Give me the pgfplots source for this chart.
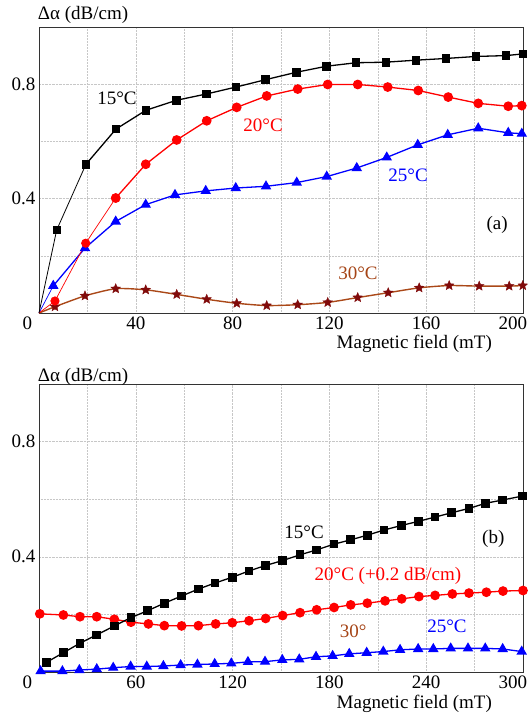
\documentclass[border=0pt]{standalone}
\usepackage{fontspec}
\setmainfont{Liberation Serif}
\usepackage{pgfplots}
\pgfplotsset{compat=1.18}
\definecolor{brline}{RGB}{170,72,24}
\definecolor{brstar}{RGB}{128,10,10}
\definecolor{brtext}{RGB}{165,68,22}
\pgfdeclareplotmark{fstar}{%
  \pgfpathmoveto{\pgfqpointpolar{90}{\pgfplotmarksize}}%
  \pgfpathlineto{\pgfqpointpolar{126}{0.45\pgfplotmarksize}}%
  \pgfpathlineto{\pgfqpointpolar{162}{\pgfplotmarksize}}%
  \pgfpathlineto{\pgfqpointpolar{198}{0.45\pgfplotmarksize}}%
  \pgfpathlineto{\pgfqpointpolar{234}{\pgfplotmarksize}}%
  \pgfpathlineto{\pgfqpointpolar{270}{0.45\pgfplotmarksize}}%
  \pgfpathlineto{\pgfqpointpolar{306}{\pgfplotmarksize}}%
  \pgfpathlineto{\pgfqpointpolar{342}{0.45\pgfplotmarksize}}%
  \pgfpathlineto{\pgfqpointpolar{18}{\pgfplotmarksize}}%
  \pgfpathlineto{\pgfqpointpolar{54}{0.45\pgfplotmarksize}}%
  \pgfpathclose
  \pgfusepathqfillstroke}
\pgfplotsset{
  myaxis/.style={
    scale only axis, anchor=south west,
    ymin=0, ymax=1,
    ytick={0.4,0.8}, yticklabels={0.4,0.8},
    minor ytick={0.2,0.6},
    grid=both,
    grid style={densely dotted, black!22, line width=0.5pt},
    minor grid style={densely dotted, black!22, line width=0.5pt},
    major tick length=0pt, minor tick length=0pt,
    axis line style={black!80, line width=0.8pt},
    /pgf/number format/assume math mode=true,
    clip=false,
    tick label style={font=\fontsize{19}{22}\selectfont},
  },
  sq/.style={black, line width=1.3pt, mark=square*, mark size=3.7pt, mark options={solid, fill=black}},
  ci/.style={red, line width=1.3pt, mark=*, mark size=4.2pt, mark options={solid, fill=red}},
  tr/.style={blue, line width=1.3pt, mark=triangle*, mark size=4.8pt, mark options={solid, fill=blue}},
  st/.style={brline, line width=1.4pt, mark=fstar, mark size=5pt, mark options={solid, draw=brstar, fill=brstar, line width=0.4pt}},
}
\begin{document}
\begin{tikzpicture}[font=\fontsize{19}{22}\selectfont]
% ---------- panel (a) ----------
\begin{axis}[myaxis, at={(39pt,-313pt)}, width=484pt, height=286pt,
  xmin=0, xmax=200,
  xtick={0,40,80,120,160,200},
  xticklabels={\makebox[0pt][r]{0\hspace{7pt}},40,80,120,160,\makebox[0pt][r]{200\hspace{-4pt}}},
  minor xtick={20,60,100,140,180}]
% 30 C
\addplot[st, smooth, tension=0.4, mark indices={2,...,18}] coordinates {
(0,0) (6.6,0.022) (19,0.06) (31.7,0.085) (44.1,0.081) (56.9,0.065) (69.3,0.048) (81.7,0.034) (94.1,0.026) (106.9,0.029) (119.3,0.037) (131.7,0.054) (144.3,0.071) (157.1,0.088) (169.5,0.096) (181.9,0.094) (194.3,0.094) (199.9,0.096)};
% 25 C
\addplot[tr, line width=0.7pt, mark indices={2}] coordinates {(0,0) (5.9,0.095)};
\addplot[tr] coordinates {
(5.9,0.095) (19,0.227) (31.7,0.32) (44.1,0.379) (56.2,0.413) (68.9,0.427) (81.3,0.437) (93.8,0.443) (106.5,0.456) (118.9,0.477) (131.3,0.507) (143.7,0.544) (156.5,0.588) (168.9,0.623) (181.5,0.646) (193.9,0.63) (199.5,0.627)};
% 20 C
\addplot[ci, line width=0.7pt, mark indices={2,3,4}] coordinates {(0,0) (6.6,0.042) (19.3,0.244) (31.7,0.402)};
\addplot[ci] coordinates {
(31.7,0.402) (44.1,0.52) (56.9,0.605) (69.3,0.672) (81.7,0.719) (94.1,0.759) (106.9,0.783) (119.3,0.799) (131.7,0.799) (144.1,0.79) (156.7,0.778) (169.1,0.755) (181.5,0.733) (193.9,0.723) (199.5,0.725)};
% 15 C
\addplot[sq, line width=0.8pt, mark indices={2,3}] coordinates {(0,0) (7.3,0.29) (19.4,0.52)};
\addplot[sq] coordinates {
(19.4,0.52) (31.8,0.643) (44.2,0.709) (56.9,0.744) (69.3,0.766) (81.4,0.79) (93.7,0.816) (106.5,0.842) (118.9,0.863) (131,0.875) (143.4,0.877) (155.8,0.884) (168.2,0.89) (180.6,0.897) (193,0.9) (200,0.906)};
\node[black] at (axis cs:32.2,0.75) {15°C};
\node[red] at (axis cs:92.6,0.655) {20°C};
\node[blue] at (axis cs:152.5,0.48) {25°C};
\node[black] at (axis cs:189.3,0.308) {(a)};
\node[brtext] at (axis cs:131.8,0.138) {30°C};
\end{axis}
% ---------- panel (b) ----------
\begin{axis}[myaxis, at={(39pt,-672pt)}, width=484pt, height=288pt,
  xmin=0, xmax=300,
  xtick={0,60,120,180,240,300},
  xticklabels={\makebox[0pt][r]{0\hspace{7pt}},60,120,180,240,\makebox[0pt][r]{300\hspace{-4pt}}},
  minor xtick={30,90,150,210,270}]
\addplot[tr] coordinates {
(1,0.003) (14.5,0.003) (25,0.007) (35.8,0.01) (46,0.015) (56.8,0.019) (66.8,0.019) (77.1,0.021) (87.8,0.024) (98.2,0.026) (108.9,0.028) (119.2,0.03) (129.5,0.035) (140.1,0.036) (150.8,0.042) (161.3,0.044) (171.7,0.053) (182,0.056) (192.3,0.063) (203.1,0.067) (213.4,0.071) (223.8,0.077) (235,0.08) (244.4,0.08) (255.2,0.082) (265.9,0.082) (276.6,0.082) (287.4,0.08) (299.2,0.071)};
\addplot[ci] coordinates {
(0.5,0.202) (15.1,0.198) (25.4,0.192) (35.8,0.192) (46.7,0.183) (57,0.173) (67.8,0.167) (77.7,0.161) (88.4,0.16) (98.8,0.161) (109.5,0.167) (119.8,0.171) (130.2,0.178) (140.5,0.186) (151,0.196) (161.8,0.206) (172.1,0.216) (182.9,0.224) (193.2,0.233) (203.5,0.239) (214.5,0.247) (224.8,0.254) (235.5,0.262) (245.5,0.266) (256.2,0.271) (266.5,0.274) (277.3,0.277) (287.6,0.281) (300,0.283)};
\addplot[sq] coordinates {
(4.8,0.034) (15.1,0.067) (25.4,0.1) (35.8,0.129) (46.7,0.16) (57,0.189) (67.4,0.213) (77.7,0.239) (88.4,0.264) (98.8,0.288) (109.1,0.309) (119.8,0.329) (130.2,0.351) (140.5,0.37) (151,0.387) (161.8,0.407) (172.1,0.424) (182.9,0.444) (193.2,0.459) (203.5,0.475) (213.8,0.493) (224.8,0.509) (235.1,0.523) (245.5,0.538) (255.8,0.553) (266.5,0.568) (276.9,0.586) (287.2,0.597) (299.6,0.611)};
\node[black] at (axis cs:164.3,0.485) {15°C};
\node[black] at (axis cs:281.6,0.462) {(b)};
\node[red] at (axis cs:216.3,0.335) {20°C (+0.2 dB/cm)};
\node[brtext] at (axis cs:194.8,0.14) {30°};
\node[blue] at (axis cs:252.9,0.16) {25°C};
\end{axis}
% axis titles
\node[anchor=base west, inner sep=0pt] at (37.7pt,-20pt) {Δα (dB/cm)};
\node[anchor=base east, inner sep=0pt] at (492pt,-348pt) {Magnetic field (mT)};
\node[anchor=base west, inner sep=0pt] at (37.7pt,-381pt) {Δα (dB/cm)};
\node[anchor=base east, inner sep=0pt] at (492pt,-708pt) {Magnetic field (mT)};
\pgfresetboundingbox
\path[use as bounding box] (0pt,0pt) rectangle (531pt,-722pt);
\end{tikzpicture}
\end{document}
